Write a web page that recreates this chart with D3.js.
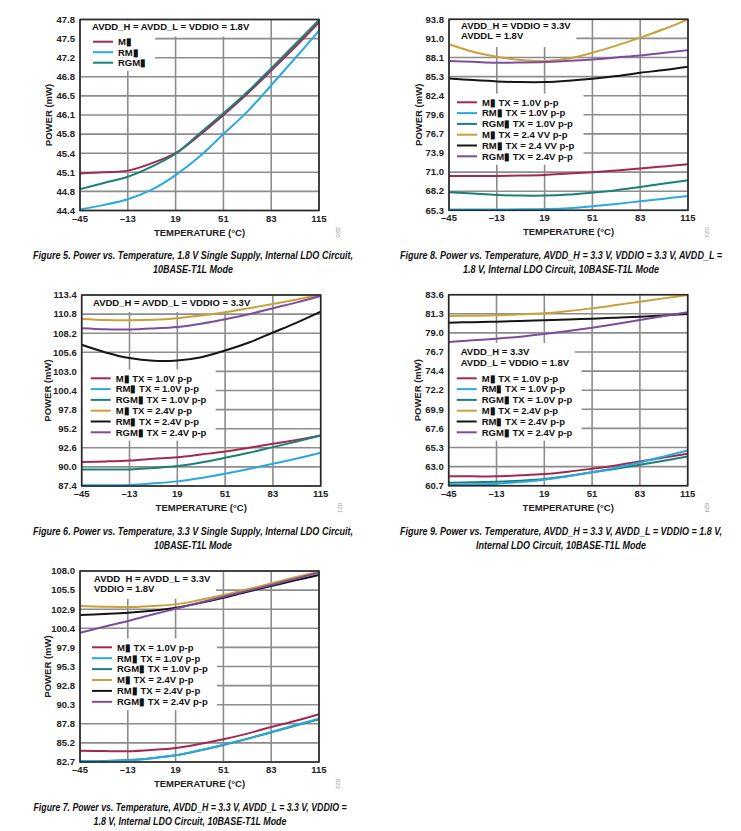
<!DOCTYPE html>
<html>
<head>
<meta charset="utf-8">
<script src="https://cdn.jsdelivr.net/npm/d3@7"></script>
<style>
  body { margin: 0; background: #fff; }
  svg text { font-family: "Liberation Sans Narrow", "Arial Narrow", "Liberation Sans", Arial, sans-serif; }
</style>
</head>
<body>
<div id="chart"></div>
<script>
// ============ DATA ============
// Temperatures (°C) where the curves are sampled
const temps = [-45, -29, -13, 3, 19, 35, 51, 67, 83, 99, 115];
const xTicks = [-45, -13, 19, 51, 83, 115];

// Y tick labels of every figure (bottom to top)
const fig5Ticks = ["44.4", "44.8", "45.1", "45.4", "45.8", "46.1", "46.5", "46.8", "47.2", "47.5", "47.8"];
const fig8Ticks = ["65.3", "68.2", "71.0", "73.9", "76.7", "79.6", "82.4", "85.3", "88.1", "91.0", "93.8"];
const fig6Ticks = ["87.4", "90.0", "92.6", "95.2", "97.8", "100.4", "103.0", "105.6", "108.2", "110.8", "113.4"];
const fig9Ticks = ["60.7", "63.0", "65.3", "67.6", "69.9", "72.2", "74.4", "76.7", "79.0", "81.3", "83.6"];
const fig7Ticks = ["82.7", "85.2", "87.8", "90.3", "92.8", "95.3", "97.9", "100.4", "102.9", "105.5", "108.0"];

// Figure 5 (mW)
const fig5MII   = [45.06, 45.08, 45.11, 45.24, 45.42, 45.74, 46.10, 46.48, 46.89, 47.31, 47.75];
const fig5RMII  = [44.42, 44.50, 44.60, 44.77, 45.03, 45.36, 45.76, 46.16, 46.63, 47.11, 47.60];
const fig5RGMII = [44.78, 44.89, 45.00, 45.18, 45.41, 45.77, 46.13, 46.51, 46.93, 47.36, 47.79];

// Figure 8 (mW)
const fig8MII10   = [70.43, 70.43, 70.43, 70.48, 70.58, 70.78, 70.98, 71.23, 71.53, 71.85, 72.18];
const fig8RMII10  = [65.42, 65.42, 65.42, 65.44, 65.48, 65.60, 65.90, 66.25, 66.65, 67.04, 67.44];
const fig8RGMII10 = [67.99, 67.79, 67.59, 67.49, 67.49, 67.64, 67.94, 68.29, 68.79, 69.29, 69.78];
const fig8MII24   = [90.07, 88.96, 88.22, 87.73, 87.57, 87.96, 88.82, 89.87, 91.06, 92.35, 93.80];
const fig8RMII24  = [84.98, 84.73, 84.53, 84.43, 84.43, 84.63, 84.93, 85.33, 85.83, 86.23, 86.73];
const fig8RGMII24 = [87.57, 87.45, 87.33, 87.35, 87.42, 87.60, 87.80, 88.10, 88.40, 88.80, 89.20];

// Figure 6 (mW)
const fig6MII10   = [90.66, 90.75, 90.88, 91.11, 91.33, 91.70, 92.10, 92.60, 93.14, 93.68, 94.27];
const fig6RMII10  = [87.49, 87.50, 87.54, 87.76, 88.03, 88.49, 89.07, 89.71, 90.43, 91.15, 91.92];
const fig6RGMII10 = [89.66, 89.63, 89.66, 89.84, 90.11, 90.61, 91.24, 91.92, 92.69, 93.46, 94.27];
const fig6MII24   = [110.14, 110.00, 109.96, 110.03, 110.24, 110.60, 111.05, 111.60, 112.18, 112.80, 113.40];
const fig6RMII24  = [106.62, 105.58, 104.81, 104.45, 104.49, 104.94, 105.85, 106.93, 108.29, 109.65, 111.14];
const fig6RGMII24 = [108.88, 108.74, 108.70, 108.84, 109.06, 109.50, 110.10, 110.78, 111.60, 112.40, 113.27];

// Figure 9 (mW)
const fig9MII10   = [61.82, 61.82, 61.82, 61.94, 62.10, 62.38, 62.74, 63.13, 63.61, 64.09, 64.53];
const fig9RMII10  = [60.82, 60.86, 60.94, 61.14, 61.42, 61.82, 62.30, 62.86, 63.49, 64.21, 64.93];
const fig9RGMII10 = [61.06, 61.10, 61.18, 61.30, 61.50, 61.86, 62.30, 62.74, 63.21, 63.69, 64.21];
const fig9MII24   = [81.05, 81.08, 81.13, 81.25, 81.37, 81.64, 81.96, 82.36, 82.76, 83.16, 83.56];
const fig9RMII24  = [80.25, 80.31, 80.37, 80.45, 80.53, 80.63, 80.73, 80.85, 80.97, 81.12, 81.29];
const fig9RGMII24 = [77.93, 78.13, 78.33, 78.57, 78.89, 79.25, 79.65, 80.09, 80.57, 81.05, 81.49];

// Figure 7 (mW)
const fig7MII10   = [84.20, 84.15, 84.12, 84.29, 84.56, 85.09, 85.71, 86.46, 87.34, 88.14, 89.03];
const fig7RMII10  = [82.76, 82.81, 82.92, 83.19, 83.58, 84.25, 85.00, 85.80, 86.68, 87.57, 88.45];
const fig7RGMII10 = [82.80, 82.84, 82.95, 83.21, 83.58, 84.22, 84.96, 85.76, 86.62, 87.50, 88.36];
const fig7MII24   = [103.36, 103.28, 103.22, 103.36, 103.58, 104.15, 104.81, 105.57, 106.36, 107.16, 107.91];
const fig7RMII24  = [102.16, 102.30, 102.47, 102.74, 103.13, 103.75, 104.46, 105.26, 106.01, 106.76, 107.47];
const fig7RGMII24 = [99.82, 100.61, 101.37, 102.20, 103.00, 103.80, 104.59, 105.37, 106.14, 106.96, 107.78];

// Legend labels
const labels3 = ["M\u25AE", "RM\u25AE", "RGM\u25AE"];
const labels6 = ["M\u25AE TX = 1.0V p-p", "RM\u25AE TX = 1.0V p-p", "RGM\u25AE TX = 1.0V p-p",
                 "M\u25AE TX = 2.4V p-p", "RM\u25AE TX = 2.4V p-p", "RGM\u25AE TX = 2.4V p-p"];
const labels6b = ["M\u25AE TX = 1.0V p-p", "RM\u25AE TX = 1.0V p-p", "RGM\u25AE TX = 1.0V p-p",
                  "M\u25AE TX = 2.4 VV p-p", "RM\u25AE TX = 2.4 VV p-p", "RGM\u25AE TX = 2.4V p-p"];

// Series colours
const colors3 = ["#a3294f", "#2aa9e0", "#1b7f7a"];
const colors6 = ["#a3294f", "#2aa9e0", "#1b7f7a", "#c9a13a", "#151515", "#7f4c9c"];

// ============ LAYOUT ============
const panelW = 239, panelH = 191;

const panels = [
  { left: 80, top: 19.5, ticks: fig5Ticks, series: [fig5MII, fig5RMII, fig5RGMII],
    labels: labels3, colors: colors3, order: [0, 2, 1], powX: -31,
    notes: ["AVDD_H = AVDD_L = VDDIO = 1.8V"], noteX: 12, noteY: 7.5,
    legX: 13, legY: 22.2, legStep: 10.5, id: "020",
    caption: ["Figure 5. Power vs. Temperature, 1.8 V Single Supply, Internal LDO Circuit,", "10BASE-T1L Mode"],
    capX: 193, capY: 259, capW: [320, 80] },
  { left: 449, top: 19.3, ticks: fig8Ticks,
    series: [fig8MII10, fig8RMII10, fig8RGMII10, fig8MII24, fig8RMII24, fig8RGMII24],
    labels: labels6b, colors: colors6, order: [0, 1, 2, 3, 4, 5], powX: -30,
    notes: ["AVDD_H = VDDIO = 3.3V", "AVDDL = 1.8V"], noteX: 12, noteY: 6,
    legX: 8, legY: 83, legStep: 10.8, id: "023",
    caption: ["Figure 8. Power vs. Temperature, AVDD_H = 3.3 V, VDDIO = 3.3 V, AVDD_L =", "1.8 V, Internal LDO Circuit, 10BASE-T1L Mode"],
    capX: 561, capY: 259, capW: [322, 196] },
  { left: 81.7, top: 295, ticks: fig6Ticks,
    series: [fig6MII10, fig6RMII10, fig6RGMII10, fig6MII24, fig6RMII24, fig6RGMII24],
    labels: labels6, colors: colors6, order: [0, 1, 2, 3, 4, 5], powX: -34,
    notes: ["AVDD_H = AVDD_L = VDDIO = 3.3V"], noteX: 11.3, noteY: 7.7,
    legX: 9, legY: 83.3, legStep: 10.8, id: "021",
    caption: ["Figure 6. Power vs. Temperature, 3.3 V Single Supply, Internal LDO Circuit,", "10BASE-T1L Mode"],
    capX: 193, capY: 535, capW: [320, 78] },
  { left: 448.7, top: 294.7, ticks: fig9Ticks,
    series: [fig9MII10, fig9RMII10, fig9RGMII10, fig9MII24, fig9RMII24, fig9RGMII24],
    labels: labels6, colors: colors6, order: [0, 2, 1, 3, 4, 5], powX: -31,
    notes: ["AVDD_H = 3.3V", "AVDD_L = VDDIO = 1.8V"], noteX: 12, noteY: 57,
    legX: 8, legY: 83.6, legStep: 10.8, id: "024",
    caption: ["Figure 9. Power vs. Temperature, AVDD_H = 3.3 V, AVDD_L = VDDIO = 1.8 V,", "Internal LDO Circuit, 10BASE-T1L Mode"],
    capX: 561, capY: 535, capW: [322, 170] },
  { left: 80, top: 571, ticks: fig7Ticks,
    series: [fig7MII10, fig7RMII10, fig7RGMII10, fig7MII24, fig7RMII24, fig7RGMII24],
    labels: labels6, colors: colors6, order: [0, 2, 1, 3, 4, 5], powX: -32,
    notes: ["AVDD\u00A0 H = AVDD_L = 3.3V", "VDDIO = 1.8V"], noteX: 14, noteY: 7.3,
    legX: 12, legY: 76.3, legStep: 10.9, id: "022",
    caption: ["Figure 7. Power vs. Temperature, AVDD_H = 3.3 V, AVDD_L = 3.3 V, VDDIO =", "1.8 V, Internal LDO Circuit, 10BASE-T1L Mode"],
    capX: 190, capY: 811, capW: [313, 193] }
];

const svg = d3.select("#chart")
  .append("svg")
  .attr("width", 741)
  .attr("height", 831);

svg.append("rect").attr("width", 741).attr("height", 831).attr("fill", "#fff");

panels.forEach(function(p) {
  const g = svg.append("g").attr("transform", `translate(${p.left},${p.top})`);

  const x = d3.scaleLinear().domain([-45, 115]).range([0, panelW]);
  const yMin = +p.ticks[0], yMax = +p.ticks[p.ticks.length - 1];
  const y = d3.scaleLinear().domain([yMin, yMax]).range([panelH, 0]);
  const yPos = p.ticks.map((t, i) => yMin + i * (yMax - yMin) / (p.ticks.length - 1));

  // Grid
  g.selectAll(".hgrid").data(yPos).enter().append("line")
    .attr("x1", 0).attr("x2", panelW)
    .attr("y1", d => y(d)).attr("y2", d => y(d))
    .attr("stroke", "#8c8c8c").attr("stroke-width", 1.6);
  g.selectAll(".vgrid").data(xTicks).enter().append("line")
    .attr("x1", d => x(d)).attr("x2", d => x(d))
    .attr("y1", 0).attr("y2", panelH)
    .attr("stroke", "#8c8c8c").attr("stroke-width", 1.6);

  // Tick labels
  g.selectAll(".ylab").data(p.ticks).enter().append("text")
    .attr("x", -5).attr("y", (d, i) => y(yPos[i]) + 3.3)
    .attr("text-anchor", "end")
    .attr("font-size", 9.5).attr("font-weight", "bold").attr("fill", "#222")
    .text(d => d);
  g.selectAll(".xlab").data(xTicks).enter().append("text")
    .attr("x", d => x(d)).attr("y", panelH + 11)
    .attr("text-anchor", "middle")
    .attr("font-size", 9.5).attr("font-weight", "bold").attr("fill", "#222")
    .text(d => d < 0 ? "\u2013" + Math.abs(d) : d);

  // Axis titles
  g.append("text")
    .attr("transform", "rotate(-90)")
    .attr("x", -panelH / 2).attr("y", p.powX + 3.3)
    .attr("text-anchor", "middle")
    .attr("font-size", 9.5).attr("font-weight", "bold").attr("fill", "#222")
    .text("POWER (mW)");
  g.append("text")
    .attr("x", panelW / 2).attr("y", panelH + 25)
    .attr("text-anchor", "middle")
    .attr("font-size", 9.5).attr("font-weight", "bold").attr("fill", "#222")
    .text("TEMPERATURE (°C)");

  // Small figure id
  g.append("text")
    .attr("transform", `translate(${panelW + 17},${panelH + 22}) rotate(90)`)
    .attr("text-anchor", "middle")
    .attr("font-size", 6).attr("fill", "#999")
    .text(p.id);

  // White boxes behind notes and legend
  const boxLayer = g.append("g");

  // Data lines
  const line = d3.line()
    .x((d, i) => x(temps[i]))
    .y(d => y(d))
    .curve(d3.curveCatmullRom.alpha(0.5));

  p.order.forEach(function(k) {
    g.append("path")
      .datum(p.series[k])
      .attr("fill", "none")
      .attr("stroke", p.colors[k])
      .attr("stroke-width", 2)
      .attr("d", line);
  });

  // Notes
  const notes = g.append("g");
  p.notes.forEach(function(n, i) {
    notes.append("text")
      .attr("x", p.noteX).attr("y", p.noteY + i * 10.8 + 3.3)
      .attr("font-size", 9.5).attr("font-weight", "bold").attr("fill", "#111")
      .text(n);
  });

  // Legend
  const legend = g.append("g");
  p.labels.forEach(function(lab, i) {
    const ly = p.legY + i * p.legStep;
    legend.append("line")
      .attr("x1", p.legX).attr("x2", p.legX + 20)
      .attr("y1", ly).attr("y2", ly)
      .attr("stroke", p.colors[i]).attr("stroke-width", 2);
    legend.append("text")
      .attr("x", p.legX + 25).attr("y", ly + 3.3)
      .attr("font-size", 9.5).attr("font-weight", "bold").attr("fill", "#111")
      .text(lab);
  });

  const nb = notes.node().getBBox();
  boxLayer.append("rect")
    .attr("x", 1).attr("y", Math.max(1, nb.y - 3))
    .attr("width", nb.x + nb.width + 4).attr("height", nb.height + 5)
    .attr("fill", "#fff");
  const lb = legend.node().getBBox();
  boxLayer.append("rect")
    .attr("x", 1).attr("y", lb.y - 3)
    .attr("width", lb.x + lb.width + 8).attr("height", lb.height + 6)
    .attr("fill", "#fff");

  // Frame
  g.append("rect")
    .attr("width", panelW).attr("height", panelH)
    .attr("fill", "none").attr("stroke", "#2a2a2a").attr("stroke-width", 1.6);

  // Caption (slightly tall, condensed bold italic)
  p.caption.forEach(function(c, i) {
    svg.append("text")
      .attr("transform", `translate(${p.capX - p.capW[i] / 2},${p.capY + i * 14}) scale(1,1.12)`)
      .attr("textLength", p.capW[i]).attr("lengthAdjust", "spacingAndGlyphs")
      .attr("font-size", 9.5).attr("font-weight", "bold").attr("font-style", "italic")
      .attr("fill", "#111")
      .text(c);
  });
});
</script>
</body>
</html>
